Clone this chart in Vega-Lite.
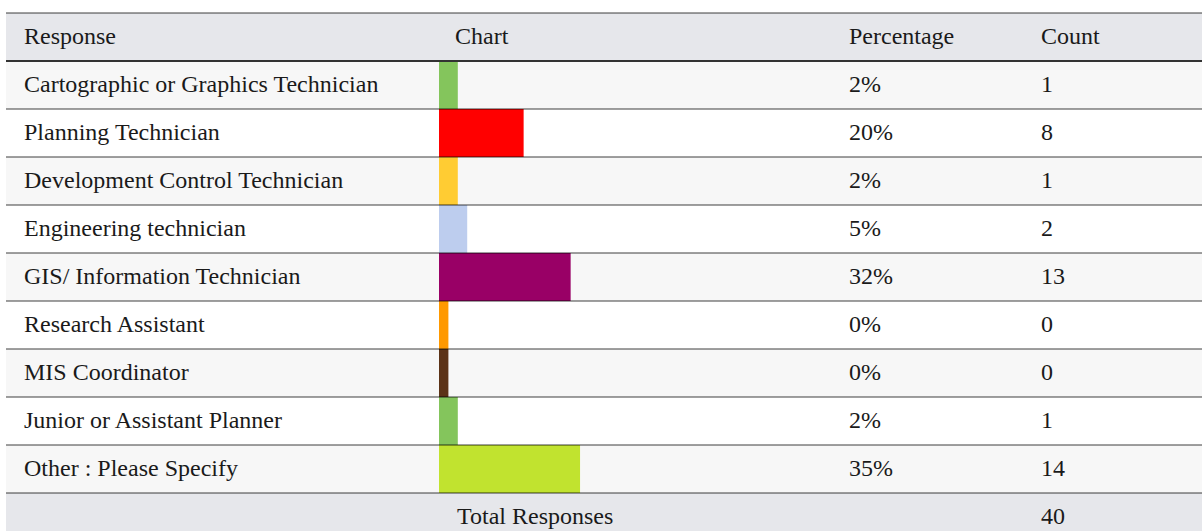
{
  "$schema": "https://vega.github.io/schema/vega-lite/v6.json",
  "background": "#ffffff",
  "padding": {"left": 4, "top": 12, "right": 0, "bottom": 0},
  "spacing": 0,
  "bounds": "flush",
  "config": {"view": {"stroke": null}, "concat": {"spacing": 0}, "text": {"font": "Liberation Serif, Times New Roman, serif"}},
  "datasets": {
    "bands": [
      {"idx": 0, "section": "header"},
      {"idx": 1, "section": "body"},
      {"idx": 2, "section": "body"},
      {"idx": 3, "section": "body"},
      {"idx": 4, "section": "body"},
      {"idx": 5, "section": "body"},
      {"idx": 6, "section": "body"},
      {"idx": 7, "section": "body"},
      {"idx": 8, "section": "body"},
      {"idx": 9, "section": "body"},
      {"idx": 10, "section": "total"}
    ],
    "rows": [
      {"idx": 1, "Response": "Cartographic or Graphics Technician", "Percentage": "2%", "Count": 1},
      {"idx": 2, "Response": "Planning Technician", "Percentage": "20%", "Count": 8},
      {"idx": 3, "Response": "Development Control Technician", "Percentage": "2%", "Count": 1},
      {"idx": 4, "Response": "Engineering technician", "Percentage": "5%", "Count": 2},
      {"idx": 5, "Response": "GIS/ Information Technician", "Percentage": "32%", "Count": 13},
      {"idx": 6, "Response": "Research Assistant", "Percentage": "0%", "Count": 0},
      {"idx": 7, "Response": "MIS Coordinator", "Percentage": "0%", "Count": 0},
      {"idx": 8, "Response": "Junior or Assistant Planner", "Percentage": "2%", "Count": 1},
      {"idx": 9, "Response": "Other : Please Specify", "Percentage": "35%", "Count": 14}
    ],
    "total": [{"idx": 10, "label": "Total Responses", "Count": 40}]
  },
  "hconcat": [
    {
      "width": 433, "height": 528,
      "layer": [
        {"data": {"name": "bands"}, "mark": {"type": "rect"},
         "encoding": {"y": {"field": "idx", "type": "ordinal", "scale": {"type": "band", "domain": [0,1,2,3,4,5,6,7,8,9,10], "paddingInner": 0, "paddingOuter": 0}, "axis": null},
           "fill": {"condition": [{"test": "datum.section !== 'body'", "value": "#e6e7eb"}, {"test": "datum.idx % 2 === 1", "value": "#f7f7f7"}], "value": "#ffffff"}}},
        {"data": {"values": [{"idx": 0, "label": "Response"}]}, "mark": {"type": "text", "align": "left", "baseline": "middle", "dx": 18, "fontSize": 24, "color": "#1a1a1a"},
         "encoding": {"y": {"field": "idx", "type": "ordinal"}, "x": {"datum": 0, "type": "quantitative", "scale": {"domain": [0, 1]}, "axis": null}, "text": {"field": "label"}}},
        {"data": {"name": "rows"}, "mark": {"type": "text", "align": "left", "baseline": "middle", "dx": 18, "fontSize": 24, "color": "#1a1a1a"},
         "encoding": {"y": {"field": "idx", "type": "ordinal"}, "x": {"datum": 0, "type": "quantitative"}, "text": {"field": "Response"}}},
        {"data": {"name": "bands"}, "mark": {"type": "rule"},
         "encoding": {"y": {"field": "idx", "type": "ordinal", "bandPosition": 0},
           "stroke": {"condition": {"test": "datum.idx === 1", "value": "#333333"}, "value": "#000000"},
           "strokeOpacity": {"condition": {"test": "datum.idx === 1", "value": 1}, "value": 0.5},
           "strokeWidth": {"condition": {"test": "datum.idx === 1", "value": 2.2}, "value": 1.4}}}
      ]
    },
    {
      "width": 394, "height": 528,
      "layer": [
        {"data": {"name": "bands"}, "mark": {"type": "rect"},
         "encoding": {"y": {"field": "idx", "type": "ordinal", "scale": {"type": "band", "domain": [0,1,2,3,4,5,6,7,8,9,10], "paddingInner": 0, "paddingOuter": 0}, "axis": null},
           "fill": {"condition": [{"test": "datum.section !== 'body'", "value": "#e6e7eb"}, {"test": "datum.idx % 2 === 1", "value": "#f7f7f7"}], "value": "#ffffff"}}},
        {"data": {"name": "rows"}, "mark": {"type": "bar"},
         "encoding": {"y": {"field": "idx", "type": "ordinal"},
           "x": {"field": "Count", "type": "quantitative", "scale": {"domain": [-1, 40.9], "nice": false, "zero": false}, "axis": null},
           "x2": {"datum": -1},
           "color": {"field": "Response", "type": "nominal", "legend": null, "scale": {
             "domain": ["Cartographic or Graphics Technician", "Planning Technician", "Development Control Technician", "Engineering technician", "GIS/ Information Technician", "Research Assistant", "MIS Coordinator", "Junior or Assistant Planner", "Other : Please Specify"],
             "range": ["#84c55c", "#ff0000", "#ffcc33", "#bdcdee", "#990066", "#ff9900", "#5c3317", "#84c55c", "#c1e32f"]}}}},
        {"data": {"values": [{"idx": 0, "label": "Chart"}]}, "mark": {"type": "text", "align": "left", "baseline": "middle", "dx": 16, "fontSize": 24, "color": "#1a1a1a"},
         "encoding": {"y": {"field": "idx", "type": "ordinal"}, "x": {"datum": -1, "type": "quantitative"}, "text": {"field": "label"}}},
        {"data": {"name": "total"}, "mark": {"type": "text", "align": "left", "baseline": "middle", "dx": 18, "fontSize": 24, "color": "#1a1a1a"},
         "encoding": {"y": {"field": "idx", "type": "ordinal"}, "x": {"datum": -1, "type": "quantitative"}, "text": {"field": "label"}}},
        {"data": {"name": "bands"}, "mark": {"type": "rule"},
         "encoding": {"y": {"field": "idx", "type": "ordinal", "bandPosition": 0},
           "stroke": {"condition": {"test": "datum.idx === 1", "value": "#333333"}, "value": "#000000"},
           "strokeOpacity": {"condition": {"test": "datum.idx === 1", "value": 1}, "value": 0.5},
           "strokeWidth": {"condition": {"test": "datum.idx === 1", "value": 2.2}, "value": 1.4}}}
      ]
    },
    {
      "width": 192, "height": 528,
      "layer": [
        {"data": {"name": "bands"}, "mark": {"type": "rect"},
         "encoding": {"y": {"field": "idx", "type": "ordinal", "scale": {"type": "band", "domain": [0,1,2,3,4,5,6,7,8,9,10], "paddingInner": 0, "paddingOuter": 0}, "axis": null},
           "fill": {"condition": [{"test": "datum.section !== 'body'", "value": "#e6e7eb"}, {"test": "datum.idx % 2 === 1", "value": "#f7f7f7"}], "value": "#ffffff"}}},
        {"data": {"values": [{"idx": 0, "label": "Percentage"}]}, "mark": {"type": "text", "align": "left", "baseline": "middle", "dx": 16, "fontSize": 24, "color": "#1a1a1a"},
         "encoding": {"y": {"field": "idx", "type": "ordinal"}, "x": {"datum": 0, "type": "quantitative", "scale": {"domain": [0, 1]}, "axis": null}, "text": {"field": "label"}}},
        {"data": {"name": "rows"}, "mark": {"type": "text", "align": "left", "baseline": "middle", "dx": 16, "fontSize": 24, "color": "#1a1a1a"},
         "encoding": {"y": {"field": "idx", "type": "ordinal"}, "x": {"datum": 0, "type": "quantitative"}, "text": {"field": "Percentage"}}},
        {"data": {"name": "bands"}, "mark": {"type": "rule"},
         "encoding": {"y": {"field": "idx", "type": "ordinal", "bandPosition": 0},
           "stroke": {"condition": {"test": "datum.idx === 1", "value": "#333333"}, "value": "#000000"},
           "strokeOpacity": {"condition": {"test": "datum.idx === 1", "value": 1}, "value": 0.5},
           "strokeWidth": {"condition": {"test": "datum.idx === 1", "value": 2.2}, "value": 1.4}}}
      ]
    },
    {
      "width": 179, "height": 528,
      "layer": [
        {"data": {"name": "bands"}, "mark": {"type": "rect"},
         "encoding": {"y": {"field": "idx", "type": "ordinal", "scale": {"type": "band", "domain": [0,1,2,3,4,5,6,7,8,9,10], "paddingInner": 0, "paddingOuter": 0}, "axis": null},
           "fill": {"condition": [{"test": "datum.section !== 'body'", "value": "#e6e7eb"}, {"test": "datum.idx % 2 === 1", "value": "#f7f7f7"}], "value": "#ffffff"}}},
        {"data": {"values": [{"idx": 0, "label": "Count"}]}, "mark": {"type": "text", "align": "left", "baseline": "middle", "dx": 16, "fontSize": 24, "color": "#1a1a1a"},
         "encoding": {"y": {"field": "idx", "type": "ordinal"}, "x": {"datum": 0, "type": "quantitative", "scale": {"domain": [0, 1]}, "axis": null}, "text": {"field": "label"}}},
        {"data": {"name": "rows"}, "mark": {"type": "text", "align": "left", "baseline": "middle", "dx": 16, "fontSize": 24, "color": "#1a1a1a"},
         "encoding": {"y": {"field": "idx", "type": "ordinal"}, "x": {"datum": 0, "type": "quantitative"}, "text": {"field": "Count"}}},
        {"data": {"name": "total"}, "mark": {"type": "text", "align": "left", "baseline": "middle", "dx": 16, "fontSize": 24, "color": "#1a1a1a"},
         "encoding": {"y": {"field": "idx", "type": "ordinal"}, "x": {"datum": 0, "type": "quantitative"}, "text": {"field": "Count"}}},
        {"data": {"name": "bands"}, "mark": {"type": "rule"},
         "encoding": {"y": {"field": "idx", "type": "ordinal", "bandPosition": 0},
           "stroke": {"condition": {"test": "datum.idx === 1", "value": "#333333"}, "value": "#000000"},
           "strokeOpacity": {"condition": {"test": "datum.idx === 1", "value": 1}, "value": 0.5},
           "strokeWidth": {"condition": {"test": "datum.idx === 1", "value": 2.2}, "value": 1.4}}}
      ]
    }
  ]
}
